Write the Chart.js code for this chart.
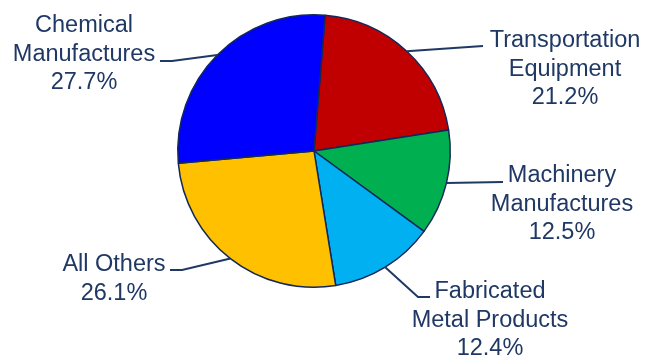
<!DOCTYPE html>
<html>
<head>
<meta charset="utf-8">
<script src="https://cdn.jsdelivr.net/npm/chart.js@4"></script>
<style>
    html, body { margin: 0; padding: 0; background: #fff; }
    #wrap { width: 657px; height: 356px; }
</style>
</head>
<body>
<div id="wrap"><canvas id="pieChart"></canvas></div>
<script>
// Slices in clockwise order starting near the top
const categories = [
    ['Transportation', 'Equipment'],
    ['Machinery', 'Manufactures'],
    ['Fabricated', 'Metal Products'],
    ['All Others'],
    ['Chemical', 'Manufactures']
];
const shares = [21.2, 12.5, 12.4, 26.1, 27.7];
const sliceColors = ['#C00000', '#00B050', '#00B0F0', '#FFC000', '#0000FF'];

// where each callout text sits and where its leader line bends
const labelLayout = [
    { cx: 565, base: 47, elbow: null, end: [483, 46] },
    { cx: 562, base: 182, elbow: null, end: [503, 182] },
    { cx: 490, base: 298, elbow: [418, 297], end: [430, 297] },
    { cx: 114, base: 271, elbow: [182, 270], end: [170, 270] },
    { cx: 84, base: 32, elbow: [172, 61], end: [160, 61] }
];

const textColor = '#1F3864';
const lineHeight = 28.7;

const calloutPlugin = {
    id: 'callouts',
    afterDatasetsDraw(chart) {
        const ctx = chart.ctx;
        const arcs = chart.getDatasetMeta(0).data;
        ctx.save();
        ctx.strokeStyle = textColor;
        ctx.lineWidth = 2;
        ctx.fillStyle = textColor;
        ctx.font = '23.5px "Liberation Sans", Arial, sans-serif';
        ctx.textAlign = 'center';
        ctx.textBaseline = 'alphabetic';
        arcs.forEach((arc, i) => {
            const p = arc.getProps(['x', 'y', 'startAngle', 'endAngle', 'outerRadius'], true);
            const mid = (p.startAngle + p.endAngle) / 2;
            const sx = p.x + Math.cos(mid) * p.outerRadius;
            const sy = p.y + Math.sin(mid) * p.outerRadius;
            const lay = labelLayout[i];
            ctx.beginPath();
            ctx.moveTo(sx, sy);
            if (lay.elbow) ctx.lineTo(lay.elbow[0], lay.elbow[1]);
            ctx.lineTo(lay.end[0], lay.end[1]);
            ctx.stroke();

            const lines = categories[i].concat([shares[i].toFixed(1) + '%']);
            lines.forEach((txt, k) => {
                ctx.fillText(txt, lay.cx, lay.base + k * lineHeight);
            });
        });
        ctx.restore();
    }
};

const ctx = document.getElementById('pieChart').getContext('2d');
new Chart(ctx, {
    type: 'pie',
    data: {
        labels: categories.map(c => c.join(' ')),
        datasets: [{
            data: shares,
            backgroundColor: sliceColors,
            borderColor: '#13285A',
            borderWidth: 1.5
        }]
    },
    options: {
        responsive: true,
        maintainAspectRatio: false,
        animation: false,
        rotation: 4.7,
        layout: {
            padding: { left: 177, right: 206, top: 14, bottom: 68 }
        },
        plugins: {
            legend: { display: false },
            tooltip: { enabled: false }
        }
    },
    plugins: [calloutPlugin]
});
</script>
</body>
</html>
